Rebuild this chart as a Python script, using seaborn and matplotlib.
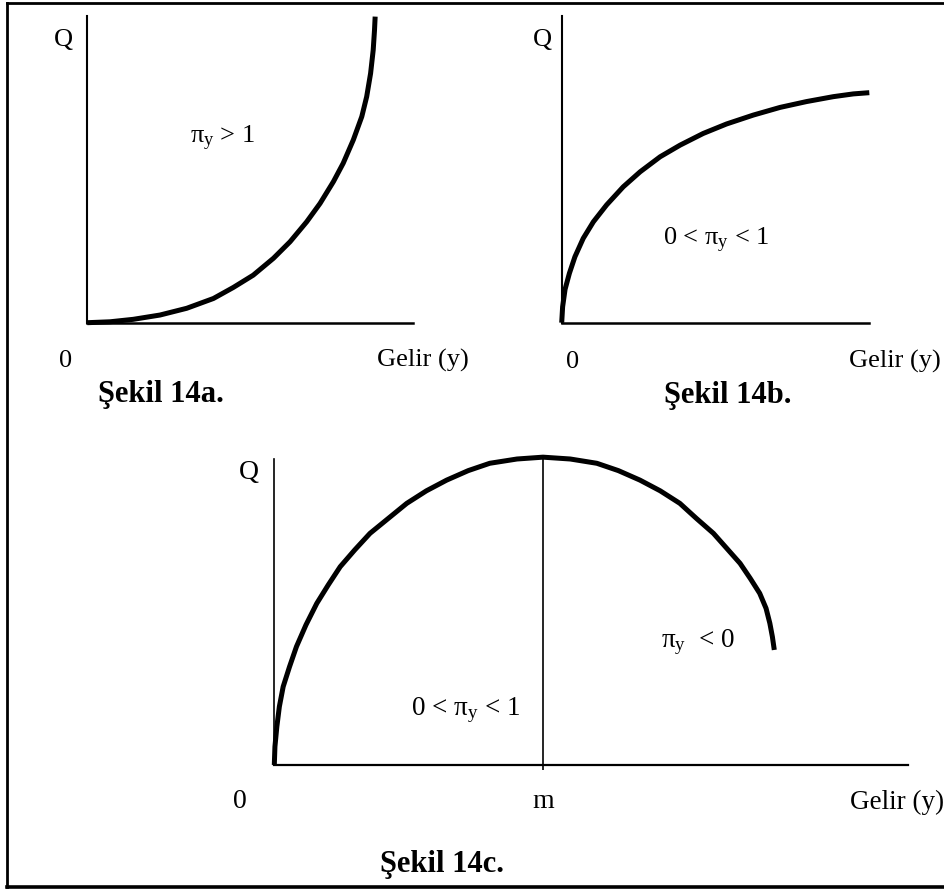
import matplotlib
matplotlib.use("Agg")
import matplotlib.pyplot as plt
from matplotlib.lines import Line2D
import pandas as pd
import seaborn as sns

# ---------------- data ----------------
# Panel a: income elasticity > 1 (convex curve)
income_a = [0, 0.70, 1.41, 2.23, 3.05, 3.87, 4.48, 5.09, 5.71, 6.22, 6.73,
            7.14, 7.55, 7.85, 8.16, 8.42, 8.57, 8.69, 8.77, 8.81, 8.83]
q_a = [0, 0.03, 0.11, 0.25, 0.47, 0.79, 1.15, 1.55, 2.10, 2.64, 3.29,
       3.89, 4.60, 5.20, 5.96, 6.72, 7.37, 8.13, 8.89, 9.54, 9.98]

# Panel b: 0 < elasticity < 1 (concave curve)
income_b = [0, 0.03, 0.11, 0.25, 0.43, 0.70, 1.03, 1.46, 2.00, 2.55, 3.20,
            3.85, 4.60, 5.36, 6.23, 7.10, 7.96, 8.83, 9.48, 10.0]
q_b = [0, 0.52, 1.09, 1.61, 2.15, 2.75, 3.29, 3.84, 4.43, 4.92, 5.41,
       5.79, 6.17, 6.48, 6.77, 7.02, 7.21, 7.37, 7.46, 7.50]

# Panel c: rises then falls (inferior good beyond m)
income_c = [0, 0.01, 0.04, 0.08, 0.14, 0.24, 0.35, 0.50, 0.67, 0.85, 1.04,
            1.27, 1.51, 1.80, 2.09, 2.40, 2.72, 3.06, 3.40, 3.83, 4.24,
            4.67, 5.09, 5.43, 5.77, 6.09, 6.40, 6.66, 6.93, 7.14, 7.35,
            7.51, 7.66, 7.76, 7.82, 7.86, 7.89]
q_c = [0, 0.60, 1.25, 1.91, 2.56, 3.21, 3.87, 4.58, 5.28, 5.88, 6.48,
       7.03, 7.57, 8.06, 8.55, 8.96, 9.31, 9.62, 9.86, 10.0, 10.06,
       10.0, 9.86, 9.62, 9.31, 8.96, 8.55, 8.06, 7.57, 7.08, 6.59,
       6.10, 5.61, 5.12, 4.63, 4.19, 3.76]

m_income = [4.24, 4.24]
m_q = [-0.15, 10.06]

# text
y_label = "Q"
x_label = "Gelir (y)"
origin_label = "0"
m_label = "m"
label_a = r"$\mathrm{π}_{\mathrm{y}}$ > 1"
label_b = r"0 < $\mathrm{π}_{\mathrm{y}}$ < 1"
label_c1 = r"0 < $\mathrm{π}_{\mathrm{y}}$ < 1"
label_c2 = r"$\mathrm{π}_{\mathrm{y}}$  < 0"
titles = ["Şekil 14a.", "Şekil 14b.", "Şekil 14c."]

# ---------------- style ----------------
sns.set_style("white")
plt.rcParams['font.family'] = ['Liberation Serif', 'DejaVu Serif']
plt.rcParams['mathtext.fontset'] = 'custom'
plt.rcParams['mathtext.rm'] = 'Liberation Serif'
plt.rcParams['mathtext.it'] = 'Liberation Serif:italic'
plt.rcParams['mathtext.bf'] = 'Liberation Serif:bold'

W, H = 945, 889
fig = plt.figure(figsize=(W / 100, H / 100), dpi=100)
fig.patch.set_facecolor("white")


def px_axes(x0, x1, y_top, y_bot):
    return fig.add_axes([x0 / W, 1 - y_bot / H, (x1 - x0) / W, (y_bot - y_top) / H])


def style_axes(ax, lw_left, lw_bottom):
    ax.set_xlim(0, 10)
    ax.set_ylim(0, 10)
    ax.set_xticks([])
    ax.set_yticks([])
    ax.set_facecolor("none")
    for side in ("top", "right"):
        ax.spines[side].set_visible(False)
    ax.spines["left"].set_color("black")
    ax.spines["bottom"].set_color("black")
    ax.spines["left"].set_linewidth(lw_left)
    ax.spines["bottom"].set_linewidth(lw_bottom)
    ax.set_xlabel("")
    ax.set_ylabel("")


def curve(ax, xs, ys, lw=3.6):
    df = pd.DataFrame({"gelir": xs, "Q": ys})
    sns.lineplot(data=df, x="gelir", y="Q", ax=ax, color="black", lw=lw,
                 estimator=None, sort=False, clip_on=False,
                 solid_capstyle="butt", solid_joinstyle="round", legend=False)


def ptext(x, y, s, size=19, weight="normal", ha="center", va="baseline"):
    fig.text(x / W, 1 - y / H, s, fontsize=size, fontweight=weight,
             ha=ha, va=va, color="black")


# Panel a
ax_a = px_axes(87.3, 413.3, 16, 322.7)
curve(ax_a, income_a, q_a)
style_axes(ax_a, 1.5, 1.8)

# Panel b
ax_b = px_axes(561.7, 869.3, 16, 322.7)
curve(ax_b, income_b, q_b)
style_axes(ax_b, 1.5, 1.8)

# Panel c
ax_c = px_axes(274.3, 908, 459, 765)
curve(ax_c, income_c, q_c)
curve(ax_c, m_income, m_q, lw=1.2)
style_axes(ax_c, 1.2, 1.6)

# ---------------- texts ----------------
# panel a
ptext(63, 46, y_label)
ptext(223, 143, label_a)
ptext(66, 367, origin_label)
ptext(423, 367, x_label)
ptext(161, 402, titles[0], size=22, weight="bold")
# panel b
ptext(542, 46, y_label)
ptext(716, 245, label_b)
ptext(573, 368, origin_label)
ptext(895, 368, x_label)
ptext(728, 403, titles[1], size=22, weight="bold")
# panel c
ptext(249, 479, y_label, size=20)
ptext(466, 715, label_c1, size=19.5)
ptext(698, 647, label_c2, size=19.5)
ptext(240, 808, origin_label, size=20)
ptext(543, 808, m_label, size=20)
ptext(897, 809, x_label, size=19.5)
ptext(442, 872, titles[2], size=22, weight="bold")

# ---------------- outer frame (right side cropped in the reference) ----------------
def fline(xs, ys, lw):
    fig.add_artist(Line2D([x / W for x in xs], [1 - y / H for y in ys],
                          transform=fig.transFigure, color="black", lw=lw,
                          solid_capstyle="projecting"))


fline([7.5, 950], [2.5, 2.5], 2.0)
fline([7.5, 7.5], [2.5, 886.5], 2.0)
fline([7.5, 950], [886.5, 886.5], 2.6)

fig.savefig("out.png", dpi=100, facecolor="white")
